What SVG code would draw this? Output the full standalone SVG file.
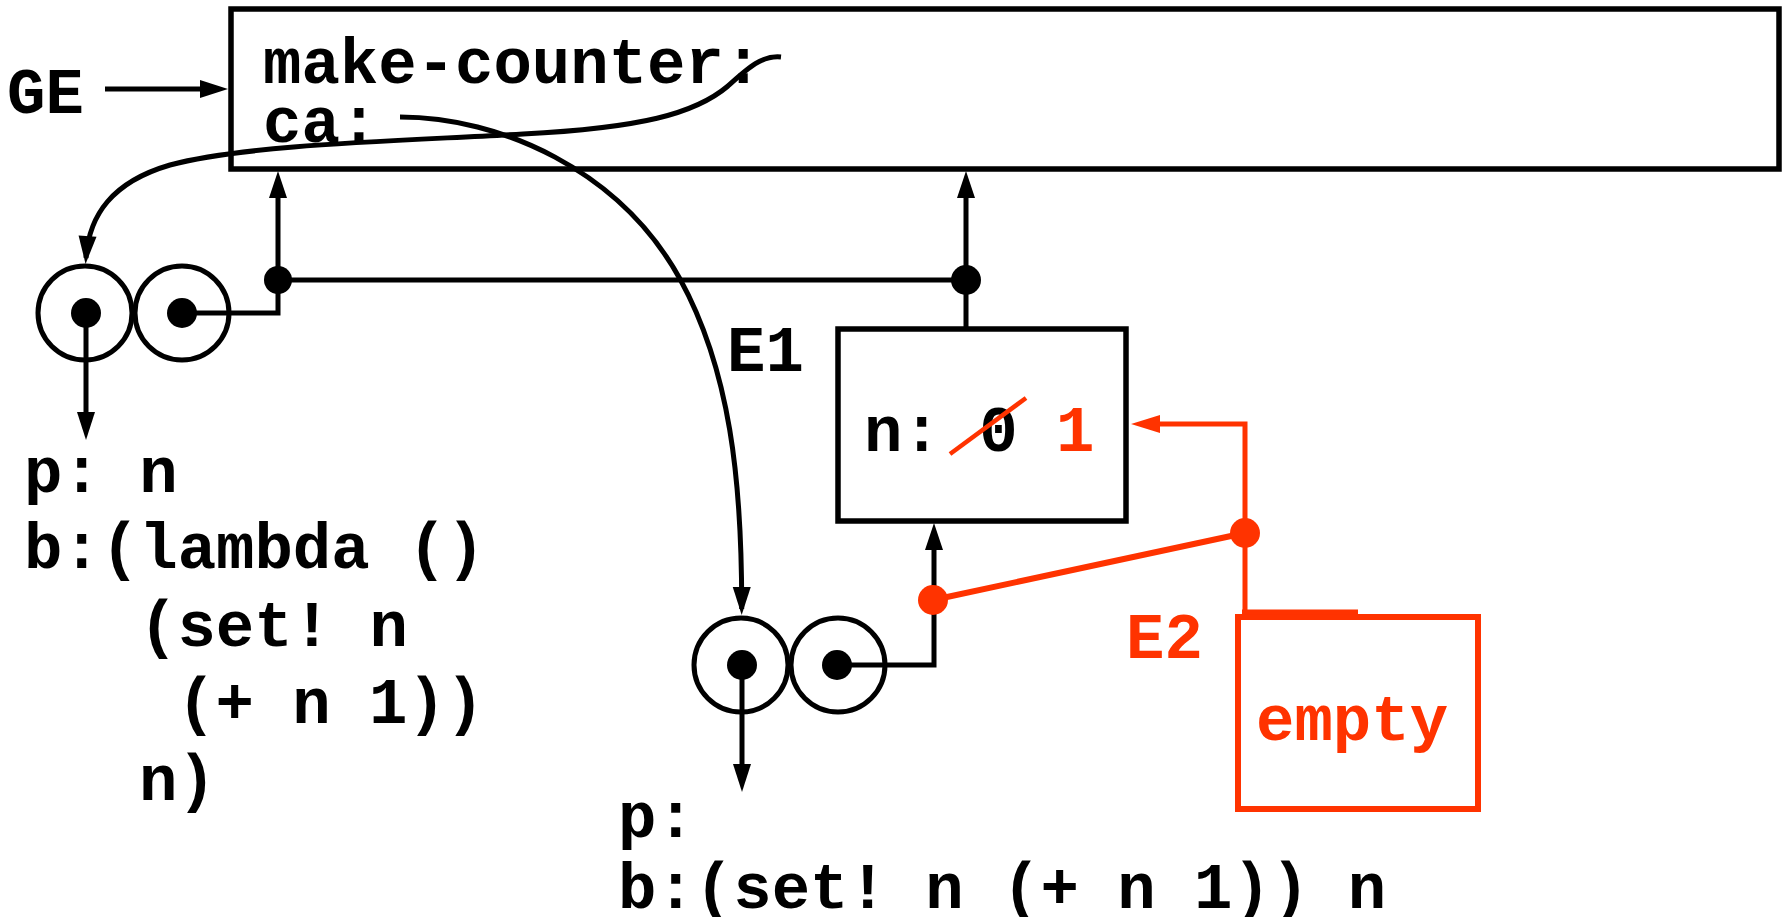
<svg xmlns="http://www.w3.org/2000/svg" width="1788" height="917" viewBox="0 0 1788 917">
<style>
.t{font-family:"Liberation Mono","DejaVu Sans Mono",monospace;font-weight:bold;font-size:64px;fill:#000}
.r{fill:#ff3300}
.frame{fill:none;stroke:#000;stroke-width:5.5}
.rframe{fill:none;stroke:#ff3300;stroke-width:6}
.ln{fill:none;stroke:#000;stroke-width:5}
.rl{fill:none;stroke:#ff3300;stroke-width:5}
.cir{fill:none;stroke:#000;stroke-width:5}
.dot{fill:#000}
.rdot{fill:#ff3300}
.ah{fill:#000}
.rah{fill:#ff3300}
</style>
<defs>
<marker id="mk" markerUnits="userSpaceOnUse" markerWidth="30" markerHeight="20" refX="22" refY="9" orient="auto" overflow="visible">
<path d="M0,0 L28,9 L0,18 z" fill="#000"/>
</marker>
</defs>
<rect width="1788" height="917" fill="#fff"/>

<g id="ge-frame">
<rect class="frame" x="231" y="9" width="1548" height="160"/>
<text class="t" x="263" y="83">make-counter:</text>
<text class="t" x="263" y="142">ca:</text>
</g>
<g id="ge-label"><text class="t" x="7" y="113">GE</text></g>

<g id="e1-frame">
<rect class="frame" x="838" y="329" width="288" height="192"/>
<text class="t" x="864" y="451">n: 0 <tspan class="r">1</tspan></text>
<line x1="950" y1="454" x2="1026" y2="398" stroke="#ff3300" stroke-width="4.5"/>
</g>
<g id="e1-label"><text class="t" x="727" y="371">E1</text></g>

<g id="e2-frame">
<rect class="rframe" x="1238" y="617" width="240" height="192"/>
<text class="t r" x="1256" y="740">empty</text>
</g>
<g id="e2-label"><text class="t r" x="1126" y="658">E2</text></g>

<g id="proc-left">
<circle class="cir" cx="85" cy="313" r="47"/>
<circle class="cir" cx="182" cy="313" r="47"/>
<circle class="dot" cx="86" cy="313" r="15"/>
<circle class="dot" cx="182" cy="313" r="15"/>
</g>
<g id="proc-left-text">
<text class="t" x="24" y="492">p: n</text>
<text class="t" x="24" y="568">b:(lambda ()</text>
<text class="t" x="139" y="646">(set! n</text>
<text class="t" x="177" y="723">(+ n 1))</text>
<text class="t" x="139" y="800">n)</text>
</g>

<g id="proc-e1">
<circle class="cir" cx="741" cy="665" r="47"/>
<circle class="cir" cx="838" cy="665" r="47"/>
<circle class="dot" cx="742" cy="665" r="15"/>
<circle class="dot" cx="837" cy="665" r="15"/>
</g>
<g id="proc-e1-text">
<text class="t" x="618" y="837">p:</text>
<text class="t" x="618" y="908">b:(set! n (+ n 1)) n</text>
</g>

<g id="connectors">
<line class="ln" x1="105" y1="89" x2="202" y2="89"/>
<polygon class="ah" points="200,80 228,89 200,98"/>
<polyline class="ln" points="182,313 278,313 278,196"/>
<polygon class="ah" points="269,198 278,171 287,198"/>
<circle class="dot" cx="278" cy="280" r="14"/>
<line class="ln" x1="278" y1="280" x2="966" y2="280"/>
<line class="ln" x1="966" y1="329" x2="966" y2="196"/>
<polygon class="ah" points="957,198 966,171 975,198"/>
<circle class="dot" cx="966" cy="280" r="15"/>
<line class="ln" x1="86" y1="313" x2="86" y2="414"/>
<polygon class="ah" points="77,412 86,440 95,412"/>
<path class="ln" marker-end="url(#mk)" d="M781,57 C762,55 748,68 728,86 C695,114 640,128 523,134 C400,141 250,144 170,165 C112,182 89,215 86,258"/>
<path class="ln" marker-end="url(#mk)" d="M400,117 C500,117 620,170 680,279 C730,370 742,480 741.7,609"/>
<polyline class="ln" points="837,665 934,665 934,548"/>
<polygon class="ah" points="925,550 934,523 943,550"/>
<line class="ln" x1="742" y1="665" x2="742" y2="766"/>
<polygon class="ah" points="733,764 742,792 751,764"/>
<line x1="1245" y1="533" x2="933" y2="600" stroke="#ff3300" stroke-width="6"/>
<polyline class="rl" points="1245,611 1245,424 1158,424"/>
<polygon class="rah" points="1160,415 1131,424 1160,433"/>
<line class="rl" x1="1242" y1="612" x2="1358" y2="612"/>
<circle class="rdot" cx="1245" cy="533" r="15"/>
<circle class="rdot" cx="933" cy="600" r="15"/>
</g>
</svg>
